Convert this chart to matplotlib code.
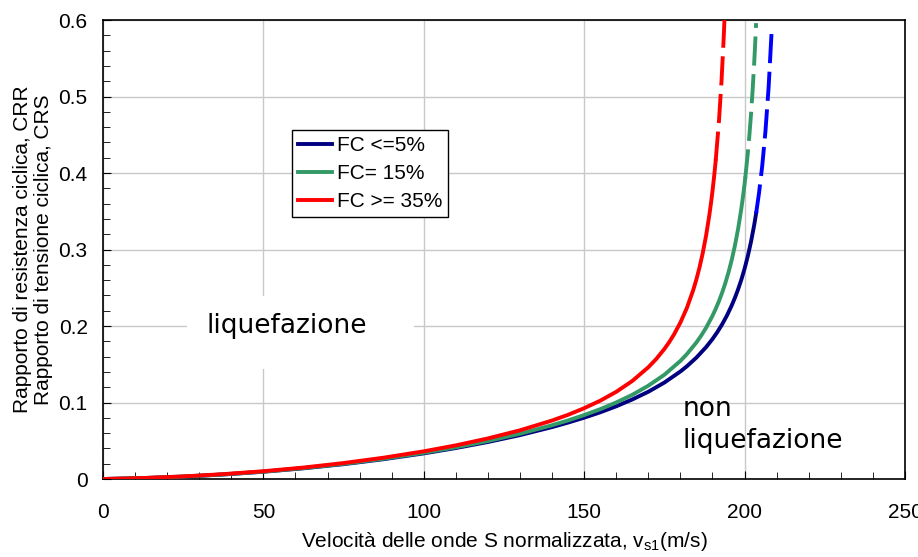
import numpy as np
from matplotlib import pyplot as plt
from matplotlib.patches import Rectangle

plt.rcParams['font.family'] = ['Liberation Sans', 'DejaVu Sans']

# FC <= 5%
vs_fc5 = [0, 12.5, 25, 37.5, 50, 62.5, 75, 87.5, 100, 110, 120, 130, 140, 145, 150,
          155, 160, 165, 170, 175, 180, 182, 185, 188, 190, 191.5, 193, 194.5, 196,
          197, 198, 199, 200, 201, 202, 203, 203.6]
crr_fc5 = [0, 0.0012, 0.0031, 0.0059, 0.0095, 0.0140, 0.0194, 0.0259, 0.0335,
           0.0405, 0.0484, 0.0574, 0.0679, 0.0738, 0.0802, 0.0872, 0.0951, 0.1040,
           0.1141, 0.1261, 0.1406, 0.1473, 0.1588, 0.1724, 0.1830, 0.1920, 0.2022,
           0.2137, 0.2270, 0.2370, 0.2482, 0.2607, 0.2749, 0.2912, 0.3100, 0.3321,
           0.3473]
vs_fc5_ext = [203.6, 204.5, 205.5, 206.5, 207.5, 208.4]
crr_fc5_ext = [0.3473, 0.3737, 0.4092, 0.4541, 0.5124, 0.5824]

# FC = 15%
vs_fc15 = [0, 12.5, 25, 37.5, 50, 62.5, 75, 87.5, 100, 110, 120, 130, 140, 145, 150,
           155, 160, 165, 170, 175, 180, 182, 185, 186.5, 188, 190, 191, 192, 193,
           194, 195, 196, 197, 198, 199, 199.6, 200, 200.2]
crr_fc15 = [0, 0.0012, 0.0032, 0.0060, 0.0097, 0.0143, 0.0199, 0.0265, 0.0343,
            0.0415, 0.0497, 0.0592, 0.0703, 0.0766, 0.0836, 0.0913, 0.1001, 0.1101,
            0.1220, 0.1363, 0.1544, 0.1632, 0.1786, 0.1876, 0.1977, 0.2134, 0.2224,
            0.2324, 0.2436, 0.2561, 0.2703, 0.2865, 0.3053, 0.3274, 0.3537, 0.3721,
            0.3857, 0.3930]
vs_fc15_ext = [200.2, 201, 201.5, 202, 202.5, 203, 203.3, 203.6]
crr_fc15_ext = [0.3930, 0.4255, 0.4493, 0.4764, 0.5076, 0.544, 0.5687, 0.596]

# FC >= 35%
vs_fc35 = [0, 12.5, 25, 37.5, 50, 62.5, 75, 87.5, 100, 110, 120, 130, 140, 145, 150,
           155, 160, 165, 170, 172.5, 175, 176.5, 178, 180, 182, 184, 185, 186, 187,
           188, 189, 189.5, 190, 190.5, 191]
crr_fc35 = [0, 0.0013, 0.0034, 0.0064, 0.0102, 0.0150, 0.0209, 0.0279, 0.0362,
            0.0440, 0.0531, 0.0637, 0.0765, 0.0840, 0.0926, 0.1024, 0.1140, 0.1282,
            0.1461, 0.1571, 0.1700, 0.1789, 0.1890, 0.2046, 0.2235, 0.2471, 0.2612,
            0.2774, 0.2962, 0.3182, 0.3445, 0.3597, 0.3765, 0.3952, 0.4162]
vs_fc35_ext = [191, 192, 192.8, 193.5, 193.8]
crr_fc35_ext = [0.4162, 0.4670, 0.5193, 0.5774, 0.6070]

plt.close('all')
fig = plt.figure(figsize=(9.18, 5.57), dpi=100)
ax = fig.add_axes([0.1122, 0.140, 0.8736, 0.824])

lw = 2.8
dash = (7.5, 2.2)
ax.plot(vs_fc5, crr_fc5, color='#000080', lw=lw, label='FC <=5%', zorder=3)
ax.plot(vs_fc15, crr_fc15, color='#339966', lw=lw, label='FC= 15%', zorder=3)
ax.plot(vs_fc35, crr_fc35, color='#ff0000', lw=lw, label='FC >= 35%', zorder=3)
ax.plot(vs_fc5_ext, crr_fc5_ext, color='#0000ff', lw=lw, dashes=dash, zorder=3)
ax.plot(vs_fc15_ext, crr_fc15_ext, color='#339966', lw=lw, dashes=dash, zorder=3)
ax.plot(vs_fc35_ext, crr_fc35_ext, color='#ff0000', lw=lw, dashes=dash, zorder=3)

ax.set_xlim(0, 250)
ax.set_ylim(0, 0.6)
ax.set_xticks([0, 50, 100, 150, 200, 250])
ax.set_yticks([0, 0.1, 0.2, 0.3, 0.4, 0.5, 0.6])
ax.set_yticklabels(['0', '0.1', '0.2', '0.3', '0.4', '0.5', '0.6'])
ax.set_xticks(np.arange(0, 251, 10), minor=True)
ax.set_yticks(np.arange(0, 0.601, 0.02), minor=True)
ax.tick_params(which='both', direction='in', labelsize=15, top=False, right=False)
ax.tick_params(which='major', length=6)
ax.tick_params(which='minor', length=5)
ax.tick_params(axis='x', which='major', pad=17)
ax.tick_params(axis='y', which='major', pad=11)
ax.grid(True, which='major', color='#c8c8c8', lw=1)
ax.set_axisbelow(True)
for s in ax.spines.values():
    s.set_linewidth(1.2)

ax.set_xlabel('Velocità delle onde S normalizzata, v$_{\\mathregular{s1}}$(m/s)', fontsize=15, labelpad=6)
ax.set_ylabel('Rapporto di resistenza ciclica, CRR\nRapporto di tensione ciclica, CRS',
              fontsize=15, labelpad=4, linespacing=1.15)

# white box behind the "liquefazione" label
ax.add_patch(Rectangle((26.3, 0.144), 70.6, 0.095, facecolor='white',
                       edgecolor='none', zorder=1.5))
ax.text(57.2, 0.1913, 'liquefazione', fontsize=19, family='DejaVu Sans',
        ha='center', va='baseline', zorder=2)
ax.text(180.8, 0.0824, 'non', fontsize=19, family='DejaVu Sans',
        ha='left', va='baseline', zorder=2)
ax.text(180.8, 0.0401, 'liquefazione', fontsize=19, family='DejaVu Sans',
        ha='left', va='baseline', zorder=2)

leg = ax.legend(loc='upper left', bbox_to_anchor=(0.2357, 0.7603), fontsize=15,
                frameon=True, fancybox=False, edgecolor='black', framealpha=1,
                handlelength=1.6, handletextpad=0.25, borderpad=0.3,
                labelspacing=0.42, borderaxespad=0)
leg.get_frame().set_linewidth(1)

fig.savefig('out.png', dpi=100)
